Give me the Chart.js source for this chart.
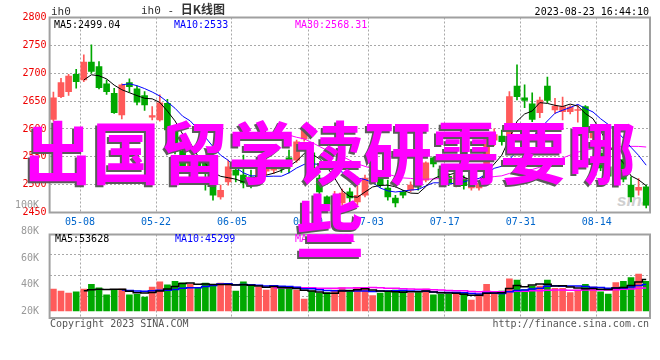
<!DOCTYPE html>
<html><head><meta charset="utf-8">
<script src="https://cdn.jsdelivr.net/npm/chart.js@4.4.1/dist/chart.umd.min.js"></script>
<style>
html,body{margin:0;padding:0;background:#fff;}
#wrap{position:relative;width:660px;height:360px;overflow:hidden;background:#fff;}
canvas{position:absolute;}
.t{position:absolute;font-family:"DejaVu Sans Mono",monospace;font-size:10px;line-height:12px;white-space:nowrap;color:#000;}
#big{position:absolute;left:0;top:113px;width:660px;text-align:center;font-family:"Noto Sans CJK SC";font-weight:700;font-size:68px;line-height:73px;color:#ff00ff;text-shadow:-2px 2px 0 #5a5a5a;}
</style></head>
<body><div id="wrap">
<div class="t" style="left:617px;top:191px;font:italic bold 17px 'Liberation Sans';line-height:20px;color:#cfcfcf">sina</div>
<canvas id="cp" width="660" height="235" style="left:0;top:0"></canvas>
<canvas id="cv" width="660" height="100" style="left:0;top:225px"></canvas>
<canvas id="cl" width="60" height="135" style="left:0;top:190px"></canvas>
<div class="t" style="left:51px;top:6px;font-size:11px;color:#333">ih0</div>
<div class="t" style="left:141px;top:3px;font-size:11px;color:#333">ih0 - <span style="font-family:'Noto Sans CJK SC';font-weight:700;font-size:12px">日K线图</span></div>
<div class="t" style="right:11px;top:6px;">2023-08-23 16:44:10</div>
<div class="t" style="left:54px;top:18.5px;">MA5:2499.04</div>
<div class="t" style="left:174px;top:18.5px;color:#0000ff">MA10:2533</div>
<div class="t" style="left:295px;top:18.5px;color:#ff00ff">MA30:2568.31</div>
<div class="t" style="left:55px;top:233px;">MA5:53628</div>
<div class="t" style="left:175px;top:233px;color:#0000ff">MA10:45299</div>
<div class="t" style="left:295px;top:233px;color:#ff00ff">MA30:38451</div>
<div class="t" style="left:50px;top:318px;color:#555">Copyright 2023 SINA.COM</div>
<div class="t" style="right:11px;top:318px;color:#555">http://finance.sina.com.cn</div>
<div id="big">出国留学读研需要哪些</div>
</div>
<script>
const DATES = ['04-27','04-28','05-04','05-05','05-08','05-09','05-10','05-11','05-12','05-15','05-16','05-17','05-18','05-19','05-22','05-23','05-24','05-25','05-26','05-29','05-30','05-31','06-01','06-02','06-05','06-06','06-07','06-08','06-09','06-12','06-13','06-14','06-15','06-16','06-19','06-20','06-21','06-26','06-27','06-28','06-29','06-30','07-03','07-04','07-05','07-06','07-07','07-10','07-11','07-12','07-13','07-14','07-17','07-18','07-19','07-20','07-21','07-24','07-25','07-26','07-27','07-28','07-31','08-01','08-02','08-03','08-04','08-07','08-08','08-09','08-10','08-11','08-14','08-15','08-16','08-17','08-18','08-21','08-22'];
const TICK_DATES = ['05-08','05-22','06-05','06-19','07-03','07-17','07-31','08-14'];
const OPEN  = [2617,2658,2667,2698,2688,2720,2712,2681,2664,2625,2683,2672,2660,2621,2616,2646,2596,2560,2522,2545,2541,2503,2478,2505,2526,2517,2514,2508,2524,2526,2535,2548,2544,2582,2557,2512,2478,2467,2467,2487,2469,2481,2512,2514,2494,2476,2487,2490,2505,2508,2548,2528,2515,2499,2512,2494,2494,2505,2580,2587,2568,2677,2656,2645,2629,2677,2634,2631,2631,2633,2640,2584,2556,2532,2515,2545,2499,2490,2496];
const HIGH  = [2666,2691,2698,2707,2733,2751,2721,2688,2673,2681,2690,2677,2667,2640,2661,2653,2600,2565,2553,2550,2550,2512,2499,2544,2535,2553,2526,2540,2545,2540,2542,2562,2580,2605,2562,2517,2480,2488,2492,2494,2514,2517,2530,2520,2508,2481,2490,2505,2512,2541,2550,2532,2520,2520,2516,2521,2505,2590,2600,2598,2667,2715,2679,2665,2657,2693,2655,2657,2642,2643,2642,2605,2562,2540,2550,2550,2514,2511,2499];
const LOW   = [2614,2656,2660,2673,2685,2700,2672,2662,2628,2618,2666,2643,2633,2616,2614,2596,2555,2520,2515,2522,2490,2472,2474,2499,2505,2494,2494,2498,2518,2520,2522,2521,2540,2578,2526,2479,2460,2462,2463,2467,2464,2478,2505,2495,2472,2460,2476,2487,2490,2505,2532,2503,2498,2496,2492,2490,2490,2500,2570,2571,2566,2652,2638,2613,2620,2647,2628,2616,2627,2612,2580,2575,2525,2510,2505,2505,2469,2481,2458];
const CLOSE = [2656,2683,2695,2685,2720,2703,2674,2667,2629,2679,2676,2648,2643,2624,2647,2598,2560,2525,2545,2530,2529,2481,2490,2532,2517,2503,2504,2531,2530,2535,2528,2541,2577,2598,2530,2487,2465,2480,2485,2476,2481,2512,2525,2499,2478,2467,2481,2499,2496,2539,2537,2512,2503,2517,2498,2508,2503,2586,2590,2577,2658,2658,2651,2617,2652,2651,2641,2640,2639,2634,2584,2595,2530,2515,2545,2510,2478,2495,2463];
const VOLUME = [37000,33600,30000,32000,37000,45000,39000,27000,35000,37000,27000,28000,23500,40000,49000,44000,50000,47500,45000,38000,47000,45000,47000,45000,33600,49000,42000,40000,35000,40000,40000,40000,35000,20000,33600,30000,31000,35000,39000,35000,39000,38000,26000,30000,32000,35000,34000,30000,31000,37000,27000,28600,28000,28000,30000,18500,28600,45000,28600,33600,54000,52000,36000,42000,42000,52000,38000,38000,31000,35000,45000,40000,32000,28600,47600,50000,56000,62000,50000];
const PRICE_MIN = 2450, PRICE_MAX = 2800, PRICE_STEP = 50;
const VOL_GRID_VALUES = [25000, 60000, 95000];
const VOL_TICK_LABELS = [20000, 40000, 60000, 80000, 100000];

const UP = '#ff5a5a', DOWN = '#00a800';
const GRID = '#a8a8a8';
const FONT = {family: 'DejaVu Sans Mono', size: 10};
const barColors = CLOSE.map((c, i) => c >= OPEN[i] ? UP : DOWN);
function movingAverage(arr, n) {
  return arr.map((_, i) => i < n - 1 ? null : arr.slice(i - n + 1, i + 1).reduce((a, b) => a + b, 0) / n);
}
const xGridColor = ctx => (TICK_DATES.includes(DATES[ctx.index]) ? GRID : 'rgba(0,0,0,0)');
const framePlugin = {
  id: 'frame',
  afterDatasetsDraw(chart) {
    const {ctx, chartArea: a} = chart;
    ctx.save(); ctx.strokeStyle = '#a0a0a0'; ctx.lineWidth = 2;
    ctx.strokeRect(a.left, a.top, a.right - a.left, a.bottom - a.top);
    ctx.restore();
  }
};
const common = {animation: false, responsive: false, devicePixelRatio: 1, events: [],
  plugins: {legend: {display: false}, tooltip: {enabled: false}, title: {display: false}}};

// Price panel
new Chart(document.getElementById('cp'), {
  type: 'bar',
  data: {
    labels: DATES,
    datasets: [
      {type: 'line', data: movingAverage(CLOSE, 5), borderColor: '#000', borderWidth: 1, pointRadius: 0, tension: 0, order: 0},
      {type: 'line', data: movingAverage(CLOSE, 10), borderColor: '#0000ff', borderWidth: 1, pointRadius: 0, tension: 0, order: 0},
      {type: 'line', data: movingAverage(CLOSE, 30), borderColor: '#ff00ff', borderWidth: 1, pointRadius: 0, tension: 0, order: 0},
      {data: OPEN.map((o, i) => [o, CLOSE[i]]), backgroundColor: barColors, barThickness: 6, minBarLength: 1, grouped: false, order: 1},
      {data: LOW.map((l, i) => [l, HIGH[i]]), backgroundColor: barColors, barThickness: 1, grouped: false, order: 2}
    ]
  },
  options: Object.assign({}, common, {
    layout: {padding: {top: 17.5, right: 10, left: 0, bottom: 0}},
    scales: {
      x: {offset: true,
        grid: {offset: true, color: xGridColor, drawTicks: false, lineWidth: 1},
        border: {display: false, dash: [2, 2]},
        ticks: {autoSkip: false, maxRotation: 0, minRotation: 0, color: '#0066cc', font: FONT, padding: 4, labelOffset: -3.8,
          callback: (v, i) => TICK_DATES.includes(DATES[i]) ? DATES[i] : ''},
        afterFit: s => { s.height = 22.5; }},
      y: {min: PRICE_MIN, max: PRICE_MAX,
        ticks: {stepSize: PRICE_STEP, color: '#ee0000', font: FONT, padding: 3, callback: v => String(v)},
        grid: {color: GRID, drawTicks: false, lineWidth: 1},
        border: {display: false, dash: [2, 2]},
        afterFit: s => { s.width = 49.6; }}
    }
  }),
  plugins: [framePlugin]
});

// Volume panel
new Chart(document.getElementById('cv'), {
  type: 'bar',
  data: {
    labels: DATES,
    datasets: [
      {type: 'line', data: movingAverage(VOLUME, 5), borderColor: '#000', borderWidth: 1.5, pointRadius: 0, stepped: 'middle', order: 0},
      {type: 'line', data: movingAverage(VOLUME, 10), borderColor: '#0000ff', borderWidth: 1.5, pointRadius: 0, stepped: 'middle', order: 0},
      {type: 'line', data: movingAverage(VOLUME, 30), borderColor: '#ff00ff', borderWidth: 1.5, pointRadius: 0, stepped: 'middle', order: 0},
      {data: VOLUME, backgroundColor: barColors, barThickness: 6, grouped: false, order: 1}
    ]
  },
  options: Object.assign({}, common, {
    layout: {padding: {top: 9.5, right: 10, left: 0, bottom: 7}},
    scales: {
      x: {offset: true,
        grid: {offset: true, color: xGridColor, drawTicks: false, lineWidth: 1},
        border: {display: false, dash: [2, 2]},
        ticks: {display: false, autoSkip: false},
        afterFit: s => { s.height = 0; }},
      y: {min: -11760, max: 128520,
        afterBuildTicks: s => { s.ticks = VOL_GRID_VALUES.map(v => ({value: v})); },
        ticks: {display: false},
        grid: {color: GRID, drawTicks: false, lineWidth: 1},
        border: {display: false, dash: [2, 2]},
        afterFit: s => { s.width = 49.6; }}
    }
  }),
  plugins: [framePlugin]
});

// Volume axis labels
new Chart(document.getElementById('cl'), {
  type: 'bar',
  data: {labels: [], datasets: []},
  options: Object.assign({}, common, {
    layout: {padding: {top: 5, bottom: 5, left: 0, right: 0}},
    scales: {
      x: {display: false},
      y: {min: 16470, max: 104800,
        afterBuildTicks: s => { s.ticks = VOL_TICK_LABELS.map(v => ({value: v})); },
        ticks: {autoSkip: false, color: '#999', font: FONT, padding: 3, callback: v => (v / 1000) + 'K'},
        grid: {display: false}, border: {display: false},
        afterFit: s => { s.width = 50; }}
    }
  })
});
</script>
</body></html>
